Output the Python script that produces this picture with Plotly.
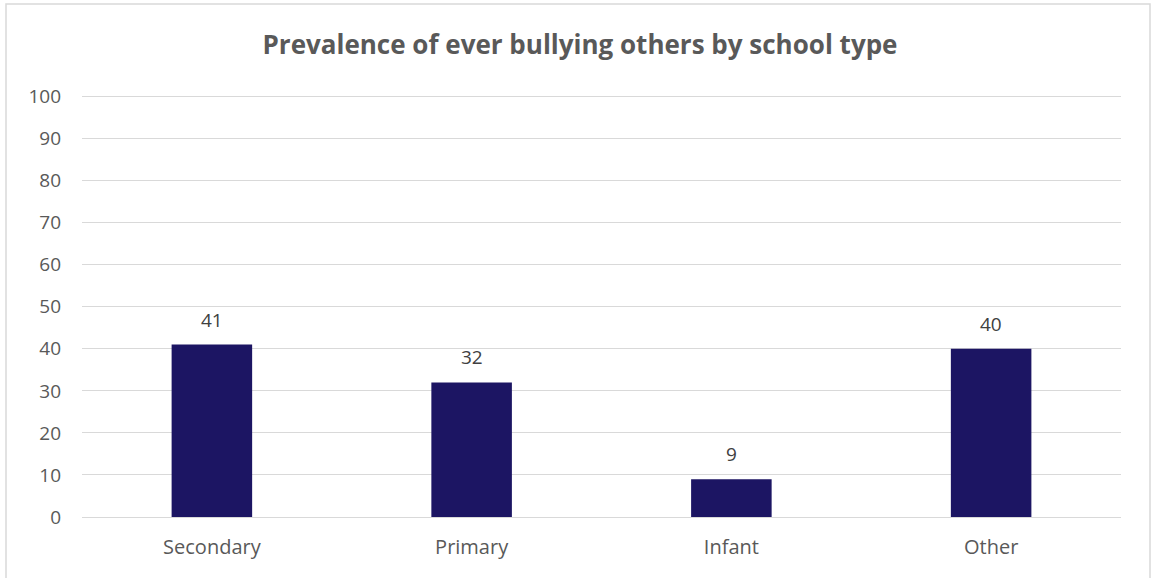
import plotly.graph_objects as go

categories = ["Secondary", "Primary", "Infant", "Other"]
values = [41, 32, 9, 40]
y_ticks = [0, 10, 20, 30, 40, 50, 60, 70, 80, 90, 100]

W, H = 1152, 578
FONT = "Open Sans, Lato, sans-serif"
# plot area: x 82..1121, y(0)=517, y(100)=97
unit = 4.2
ymax = 100.6
ml, mr = 82, 31
mb = 61
mt = int(round(517 - ymax * unit))
pw, ph = W - ml - mr, H - mt - mb

def px_x(x):
    return (x - ml) / pw

def px_y(y):
    return (H - mb - y) / ph

fig = go.Figure(go.Bar(
    x=categories, y=values,
    marker=dict(color="#1C1563", line=dict(width=0)),
    width=0.31,
    hoverinfo="skip",
))

for c, v in zip(categories, values):
    fig.add_annotation(x=c, y=v, text=str(v), showarrow=False, yanchor="middle",
                       yshift=25, font=dict(family=FONT, size=19, color="#404040"))

fig.update_layout(
    width=W, height=H,
    margin=dict(l=ml, r=mr, t=mt, b=mb),
    paper_bgcolor="white", plot_bgcolor="white",
    title=dict(text="<b>Prevalence of ever bullying others by school type</b>",
               x=580 / W, xref="container", xanchor="center", y=1 - 45 / H, yanchor="middle",
               font=dict(family=FONT, size=26, color="#595959")),
    font=dict(family=FONT, size=19, color="#595959"),
    showlegend=False,
)
fig.update_yaxes(range=[0, ymax], tickvals=y_ticks, showgrid=True, gridcolor="#D9D9D9",
                 gridwidth=1, zeroline=True, zerolinecolor="#D9D9D9", zerolinewidth=1,
                 showline=False, ticks="", ticklabelstandoff=20,
                 tickfont=dict(family=FONT, size=19, color="#595959"))
fig.update_xaxes(showgrid=False, showline=False, ticks="",
                 tickfont=dict(family=FONT, size=20, color="#595959"), ticklabelstandoff=16)

fig.add_shape(type="rect", xref="paper", yref="paper",
              x0=px_x(6), x1=px_x(1150), y0=px_y(590), y1=px_y(4),
              line=dict(color="#D9D9D9", width=1.5), fillcolor="rgba(0,0,0,0)", layer="below")

fig.write_html("out.html", config={"displayModeBar": False},
               post_script="document.body.style.margin='0';document.body.style.padding='0';")
